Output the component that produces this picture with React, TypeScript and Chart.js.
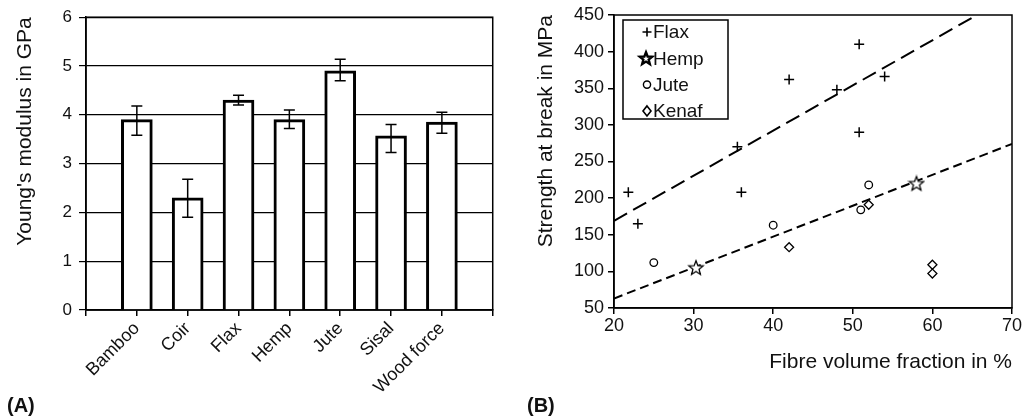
import React, { useEffect, useRef } from 'react';
import { Chart, registerables } from 'chart.js';

Chart.register(...registerables);

const FONT = '"Liberation Sans", Arial, Helvetica, sans-serif';
const INK = '#111';

// ---- Panel A: Young's modulus ----
const fibres = ['Bamboo', 'Coir', 'Flax', 'Hemp', 'Jute', 'Sisal', 'Wood force'];
const modulusGPa = [3.9, 2.3, 4.3, 3.9, 4.9, 3.57, 3.85];
const modulusLow = [3.58, 1.9, 4.2, 3.72, 4.7, 3.23, 3.62];
const modulusHigh = [4.18, 2.68, 4.4, 4.1, 5.14, 3.8, 4.05];
const modulusMin = 0;
const modulusMax = 6;
const modulusStep = 1;

// ---- Panel B: strength vs fibre volume fraction ----
const flaxX = [21.8, 23, 35.5, 36, 42, 48, 50.8, 50.8, 54];
const flaxY = [208, 165, 270, 208, 362, 348, 410, 290, 366];
const hempX = [30.3, 58];
const hempY = [105, 220];
const juteX = [25, 40, 51, 52];
const juteY = [112, 163, 184, 218];
const kenafX = [42, 52, 60, 60];
const kenafY = [133, 191, 109, 97];
const upperFitX = [20, 65.6];
const upperFitY = [169, 450];
const lowerFitX = [20, 70];
const lowerFitY = [63, 274];
const legendLabels = ['Flax', 'Hemp', 'Jute', 'Kenaf'];

function pts(xs: number[], ys: number[]) {
  return xs.map((x, i) => ({ x, y: ys[i] }));
}

function starPath(ctx: CanvasRenderingContext2D, cx: number, cy: number, r: number, ri: number) {
  ctx.beginPath();
  for (let k = 0; k < 10; k++) {
    const rad = k % 2 === 0 ? r : ri;
    const a = -Math.PI / 2 + (k * Math.PI) / 5;
    const px = cx + rad * Math.cos(a);
    const py = cy + rad * Math.sin(a);
    if (k === 0) ctx.moveTo(px, py);
    else ctx.lineTo(px, py);
  }
  ctx.closePath();
}

function makeStar(): HTMLCanvasElement {
  const c = document.createElement('canvas');
  c.width = 18;
  c.height = 18;
  const ctx = c.getContext('2d')!;
  starPath(ctx, 9, 9.5, 7.5, 3.2);
  ctx.fillStyle = '#fff';
  ctx.fill();
  ctx.strokeStyle = '#000';
  ctx.lineWidth = 1.3;
  ctx.stroke();
  return c;
}

const framePlugin = {
  id: 'frame',
  afterDraw(chart: any) {
    const { ctx, chartArea: a } = chart;
    ctx.save();
    ctx.strokeStyle = '#000';
    ctx.lineWidth = 1.5;
    ctx.strokeRect(a.left, a.top, a.right - a.left, a.bottom - a.top);
    ctx.restore();
  },
};

function ChartA() {
  const ref = useRef<HTMLCanvasElement>(null);
  useEffect(() => {
    const labels = ['', ...fibres, ''];
    const data = [null, ...modulusGPa, null];
    const errorBars = {
      id: 'errorBars',
      afterDatasetsDraw(chart: any) {
        const { ctx } = chart;
        const x = chart.scales.x;
        const y = chart.scales.y;
        ctx.save();
        ctx.strokeStyle = '#000';
        ctx.lineWidth = 1.5;
        fibres.forEach((_, i) => {
          const px = x.getPixelForValue(i + 1);
          const lo = y.getPixelForValue(modulusLow[i]);
          const hi = y.getPixelForValue(modulusHigh[i]);
          ctx.beginPath();
          ctx.moveTo(px, lo);
          ctx.lineTo(px, hi);
          ctx.moveTo(px - 5.5, lo);
          ctx.lineTo(px + 5.5, lo);
          ctx.moveTo(px - 5.5, hi);
          ctx.lineTo(px + 5.5, hi);
          ctx.stroke();
        });
        ctx.restore();
      },
    };
    const chart = new Chart(ref.current!, {
      type: 'bar',
      data: {
        labels,
        datasets: [
          {
            data: data as any,
            backgroundColor: '#fff',
            borderColor: '#000',
            borderWidth: 3,
            barThickness: 31,
          },
        ],
      },
      options: {
        responsive: false,
        animation: false,
        layout: { padding: { left: 0, top: 16, right: 13, bottom: 0 } },
        plugins: { legend: { display: false }, tooltip: { enabled: false } },
        scales: {
          x: {
            offset: false,
            grid: {
              display: true,
              offset: false,
              drawOnChartArea: false,
              drawTicks: true,
              tickLength: 6,
              color: '#000',
              lineWidth: 1.5,
            },
            border: { color: '#000', width: 1.5 },
            ticks: {
              color: INK,
              font: { family: FONT, size: 18 },
              maxRotation: 45,
              minRotation: 45,
              autoSkip: false,
              padding: 2,
            },
            afterFit: (s: any) => {
              s.height = 108;
            },
          },
          y: {
            min: modulusMin,
            max: modulusMax,
            ticks: { stepSize: modulusStep, color: INK, font: { family: FONT, size: 17 }, padding: 7 },
            grid: { color: '#000', lineWidth: 1.2, tickLength: 7 },
            border: { color: '#000', width: 1.5 },
            title: {
              display: true,
              text: "Young's modulus in GPa",
              color: INK,
              font: { family: FONT, size: 21 },
              align: 'end',
              padding: { top: 13, bottom: 0 },
            },
            afterFit: (s: any) => {
              s.width = 86;
            },
          },
        },
      } as any,
      plugins: [errorBars, framePlugin],
    });
    return () => chart.destroy();
  }, []);
  return <canvas ref={ref} width={510} height={418} style={{ position: 'absolute', left: 0, top: 0 }} />;
}

function ChartB() {
  const ref = useRef<HTMLCanvasElement>(null);
  useEffect(() => {
    const star = makeStar();
    const legendPlugin = {
      id: 'boxLegend',
      afterDraw(chart: any) {
        const { ctx, chartArea: a } = chart;
        ctx.save();
        ctx.strokeStyle = '#000';
        ctx.lineWidth = 1.5;
        const bx = a.left + 9;
        const by = a.top + 5;
        ctx.fillStyle = '#fff';
        ctx.fillRect(bx, by, 105, 99);
        ctx.strokeRect(bx, by, 105, 99);
        ctx.font = `19px ${FONT}`;
        ctx.textBaseline = 'middle';
        ctx.textAlign = 'left';
        legendLabels.forEach((lab, i) => {
          const cy = a.top + 17 + i * 26.3;
          const cx = a.left + 33;
          ctx.strokeStyle = '#000';
          ctx.fillStyle = '#fff';
          if (i === 0) {
            ctx.lineWidth = 1.6;
            ctx.beginPath();
            ctx.moveTo(cx - 4.5, cy);
            ctx.lineTo(cx + 4.5, cy);
            ctx.moveTo(cx, cy - 4.5);
            ctx.lineTo(cx, cy + 4.5);
            ctx.stroke();
          } else if (i === 1) {
            ctx.lineWidth = 2.4;
            starPath(ctx, cx - 1, cy + 0.5, 6.5, 2.8);
            ctx.fill();
            ctx.stroke();
          } else if (i === 2) {
            ctx.lineWidth = 1.4;
            ctx.beginPath();
            ctx.arc(cx, cy, 3.6, 0, Math.PI * 2);
            ctx.fill();
            ctx.stroke();
          } else {
            ctx.lineWidth = 1.6;
            ctx.beginPath();
            ctx.moveTo(cx, cy - 5);
            ctx.lineTo(cx + 4, cy);
            ctx.lineTo(cx, cy + 5);
            ctx.lineTo(cx - 4, cy);
            ctx.closePath();
            ctx.fill();
            ctx.stroke();
          }
          ctx.fillStyle = INK;
          ctx.fillText(lab, a.left + 39, cy + 1);
        });
        ctx.restore();
      },
    };
    const chart = new Chart(ref.current!, {
      type: 'scatter',
      data: {
        datasets: [
          {
            label: 'Flax',
            data: pts(flaxX, flaxY),
            pointStyle: 'cross',
            pointRadius: 5,
            borderColor: '#000',
            borderWidth: 1.5,
          },
          {
            label: 'Hemp',
            data: pts(hempX, hempY),
            pointStyle: star as any,
            pointRadius: 7,
          },
          {
            label: 'Jute',
            data: pts(juteX, juteY),
            pointStyle: 'circle',
            pointRadius: 3.8,
            backgroundColor: '#fff',
            borderColor: '#000',
            borderWidth: 1.3,
          },
          {
            label: 'Kenaf',
            data: pts(kenafX, kenafY),
            pointStyle: 'rectRot',
            pointRadius: 4.5,
            backgroundColor: '#fff',
            borderColor: '#000',
            borderWidth: 1.3,
          },
          {
            label: 'upperFit',
            data: pts(upperFitX, upperFitY),
            showLine: true,
            pointRadius: 0,
            borderColor: '#000',
            borderWidth: 2,
            borderDash: [15, 7],
          },
          {
            label: 'lowerFit',
            data: pts(lowerFitX, lowerFitY),
            showLine: true,
            pointRadius: 0,
            borderColor: '#000',
            borderWidth: 2,
            borderDash: [9, 5],
          },
        ],
      },
      options: {
        responsive: false,
        animation: false,
        layout: { padding: { left: 0, top: 15, right: 23, bottom: 0 } },
        plugins: { legend: { display: false }, tooltip: { enabled: false } },
        scales: {
          x: {
            type: 'linear',
            min: 20,
            max: 70,
            ticks: { stepSize: 10, color: INK, font: { family: FONT, size: 18 }, padding: 1 },
            grid: { drawOnChartArea: false, drawTicks: true, tickLength: 6, color: '#000', lineWidth: 1.5 },
            border: { color: '#000', width: 1.5 },
            title: {
              display: true,
              text: 'Fibre volume fraction in %',
              color: INK,
              font: { family: FONT, size: 21 },
              align: 'end',
              padding: { top: 0, bottom: 43 },
            },
            afterFit: (s: any) => {
              s.height = 110;
            },
          },
          y: {
            type: 'linear',
            min: 50,
            max: 450,
            ticks: { stepSize: 50, color: INK, font: { family: FONT, size: 18 }, padding: 4 },
            grid: { drawOnChartArea: false, drawTicks: true, tickLength: 6, color: '#000', lineWidth: 1.5 },
            border: { color: '#000', width: 1.5 },
            title: {
              display: true,
              text: 'Strength at break in MPa',
              color: INK,
              font: { family: FONT, size: 21 },
              align: 'end',
              padding: { top: 24, bottom: 0 },
            },
            afterFit: (s: any) => {
              s.width = 104;
            },
          },
        },
      } as any,
      plugins: [framePlugin, legendPlugin],
    });
    return () => chart.destroy();
  }, []);
  return <canvas ref={ref} width={525} height={418} style={{ position: 'absolute', left: 510, top: 0 }} />;
}

export default function App() {
  const labelStyle: React.CSSProperties = {
    position: 'absolute',
    top: 393,
    fontFamily: FONT,
    fontWeight: 'bold',
    fontSize: 20,
    lineHeight: '24px',
    color: INK,
  };
  return (
    <div style={{ position: 'fixed', left: 0, top: 0, width: 1035, height: 418, background: '#fff', overflow: 'hidden' }}>
      <ChartA />
      <ChartB />
      <div style={{ ...labelStyle, left: 7 }}>(A)</div>
      <div style={{ ...labelStyle, left: 527 }}>(B)</div>
    </div>
  );
}
